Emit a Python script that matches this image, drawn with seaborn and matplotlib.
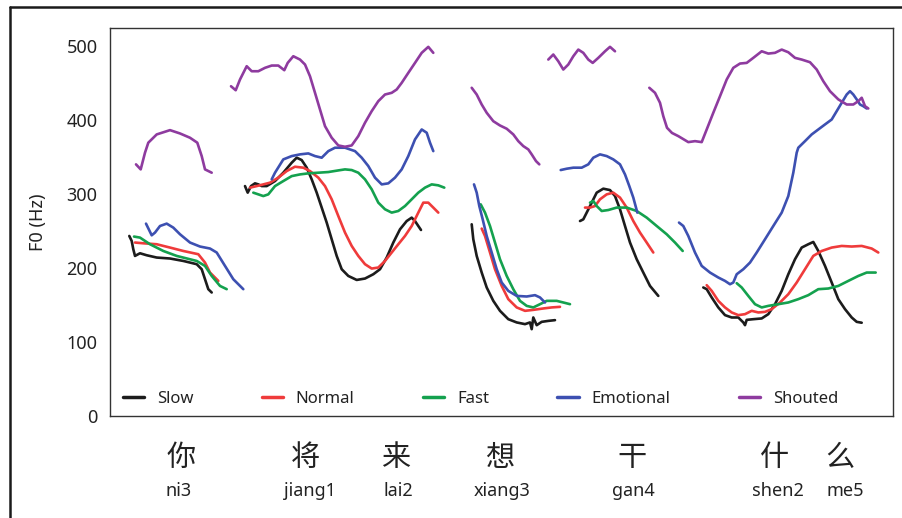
import matplotlib
matplotlib.use("Agg")
import matplotlib.pyplot as plt
import matplotlib.transforms as mtransforms
from matplotlib.lines import Line2D
import seaborn as sns
import pandas as pd

# ---------------- data (time in arbitrary units, F0 in Hz) ----------------
STYLES = ["Slow", "Normal", "Fast", "Emotional", "Shouted"]
COLORS = ["#1c1c1c", "#ef3b3b", "#14a14e", "#3d50b1", "#8e3b9f"]

# Slow
slow_t = [
    [19.3, 21.7, 23.3, 25, 30, 36.7, 46.7, 60, 73.3, 86.7, 91.7, 95, 98.3, 101.7],
    [135, 137.7, 141, 145, 148.3, 151.7, 156.7, 165, 173.3, 181.7, 186.7, 191.7, 196.7, 201.7, 206.7, 211.7, 216.7,
     221.7, 226.7, 231.7, 238.3, 246.7, 255, 263.3, 270, 276.7, 283.3, 290, 296.7, 301.7, 305, 308.3, 311],
    [361.7, 363.3, 366.7, 371.7, 376.7, 383.3, 390, 398.3, 406.7, 415, 420, 421.7, 423.3, 426.7, 431.7, 438.3, 445],
    [470, 473.3, 476.7, 481.7, 486.7, 493.3, 500, 505, 510, 515, 520, 526.7, 533.3, 540, 548.3],
    [593.3, 596.7, 601.7, 608.3, 615, 621.7, 628.3, 633.3, 635, 636.7, 643.3, 651.7, 658.3, 665, 671.7, 678.3, 685,
     691.7, 698.3, 703.3, 708.3, 715, 721.7, 728.3, 735, 741.7, 746.7, 751.7],
]
slow_f0 = [
    [243.6, 236.8, 225.6, 216.6, 220.2, 217.5, 214.4, 213.1, 209.8, 205.4, 198.6, 185.1, 171.6, 167.1],
    [311.1, 302.2, 311.1, 314.8, 313.4, 311.1, 311.1, 317.9, 329.2, 342.7, 349.5, 346.3, 336, 320.2, 302.2, 282, 261.7,
     239.1, 216.6, 198.6, 189.5, 184.1, 186, 191.8, 198.6, 214.4, 234.7, 252.6, 263.8, 268.4, 263.8, 257.1, 251.7],
    [259.4, 239.1, 216.6, 194.1, 173.9, 155.8, 142.3, 131, 126.6, 124.3, 126.6, 117.5, 133.3, 122.9, 127.4, 128.7, 129.7],
    [263.8, 266.1, 275.2, 288.7, 302.2, 307.6, 305.7, 297.6, 279.7, 257.1, 234.7, 212.1, 194.1, 176, 162.5],
    [173.9, 171.6, 160.4, 146.9, 136.5, 133.3, 133.3, 126.6, 122.9, 130.1, 131, 132, 137.8, 151.3, 169.3, 191.8, 212.1,
     227.9, 232.4, 235.5, 223.3, 203.1, 180.6, 158.1, 144.6, 133.3, 127.4, 126.2],
]

# Normal
normal_t = [
    [25, 33.3, 46.7, 60, 73.3, 88.3, 95, 100, 108.3],
    [140, 146.7, 153.3, 160, 168.3, 176.7, 185, 193.3, 200, 208.3, 215, 221.7, 228.3, 235, 241.7, 248.3, 255, 261.7,
     268.3, 275, 281.7, 288.3, 295, 301.7, 308.3, 313.3, 318.3, 323.3, 328.3],
    [371.7, 375, 380, 385, 391.7, 398.3, 406.7, 415, 423.3, 433.3, 441.7, 450],
    [475, 480, 485, 490, 496.7, 503.3, 510, 516.7, 523.3, 530, 536.7, 543.3],
    [596.7, 601.7, 608.3, 615, 621.7, 628.3, 635, 641.7, 648.3, 655, 661.7, 670, 678.3, 686.7, 695, 703.3, 711.7,
     721.7, 731.7, 741.7, 751.7, 761.7, 768.3],
]
normal_f0 = [
    [234.7, 233.7, 232.4, 227.9, 223.3, 218.9, 207.6, 194.1, 182.8],
    [309, 311.1, 313.4, 315.7, 322.5, 331.4, 337.3, 336, 331.4, 322.5, 311.1, 293.2, 270.6, 248.2, 230.1, 216.6, 205.4,
     199.5, 200.9, 209.8, 221.2, 232.4, 243.6, 257.1, 275.2, 288.7, 288.7, 282, 275.2],
    [253.6, 243.6, 221.2, 198.6, 176, 158.1, 146.9, 142.3, 143.6, 145.5, 146.9, 147.7],
    [282, 282, 284.1, 293.2, 299.9, 302.2, 295.5, 282, 263.8, 248.2, 234.7, 221.2],
    [177, 169.3, 155.8, 146.9, 140.1, 136.5, 137.8, 142.3, 140.1, 140.9, 144.6, 153.6, 164.8, 180.6, 198.6, 216.6, 223.3,
     227.9, 230.1, 229.3, 230.1, 226.6, 221.2],
]

# Fast
fast_t = [
    [24, 30, 40, 53.3, 66.7, 86.7, 95, 101.7, 110, 116.7],
    [143.3, 148.3, 153.3, 158.3, 165, 173.3, 181.7, 190, 198.3, 208.3, 218.3, 228.3, 235, 241.7, 248.3, 255, 261.7,
     268.3, 275, 281.7, 288.3, 295, 301.7, 308.3, 315, 321.7, 328.3, 334.3],
    [370.7, 375, 380, 385, 390, 396.7, 403.3, 410, 416.7, 423.3, 430, 436.7, 446.7, 453.3, 460],
    [480, 483.3, 486.7, 491.7, 498.3, 506.7, 516.7, 526.7, 536.7, 546.7, 556.7, 565, 572.7],
    [626.7, 631.7, 638.3, 645, 651.7, 658.3, 668.3, 678.3, 688.3, 698.3, 708.3, 718.3, 728.3, 738.3, 748.3, 756.7, 765.7],
]
fast_f0 = [
    [242.8, 241.4, 232.4, 223.3, 216.6, 209.8, 203.1, 189.5, 176, 171.6],
    [302.2, 299.9, 297.6, 299.9, 311.1, 317.9, 324.6, 326.9, 328.3, 329.2, 330.1, 332.3, 333.7, 332.8, 329.2, 320.2,
     306.7, 288.7, 279.7, 275.2, 277.4, 284.1, 293.2, 302.2, 309, 313.4, 312.1, 309],
    [286.4, 275.2, 257.1, 234.7, 212.1, 189.5, 171.6, 155.8, 149, 146.9, 151.3, 155.8, 155.8, 153.6, 151.3],
    [288.7, 290.9, 284.1, 277.4, 278.7, 282, 282, 277.4, 268.4, 257.1, 245.9, 234.7, 223.3],
    [179.7, 173.9, 162.5, 151.3, 146.9, 149, 151.3, 153.6, 158.1, 163.5, 171.6, 172.5, 176, 182.8, 189.5, 194.1, 194.1],
]

# Emotional
emotional_t = [
    [36, 41.7, 45, 50, 56.7, 63.3, 70, 80, 90, 100, 106.7, 115, 123.3, 133.3],
    [161.7, 165, 173.3, 181.7, 190, 198.3, 205, 211.7, 218.3, 225, 235, 245, 251.7, 258.3, 265, 271.7, 278.3, 285,
     291.7, 298.3, 305, 311.7, 316.7, 320, 323.3],
    [364, 366.7, 369.3, 372.7, 376.7, 381.7, 386.7, 391.7, 398.3, 406.7, 416.7, 425, 430, 435],
    [450.7, 456.7, 463.3, 471.7, 478.3, 483.3, 490, 496.7, 503.3, 510, 515, 519.3, 523.3, 526, 527.3],
    [569, 573.3, 578.3, 585, 591.7, 600, 608.3, 615, 620, 623.3, 626.7, 633.3, 640, 646.7, 655, 663.3, 671.7, 678.3,
     683.3, 686.7, 688.3, 695, 701.7, 708.3, 715, 721.7, 726.7, 731.7, 736.7, 740, 743.3, 746.7, 750, 753.3, 756.7],
]
emotional_f0 = [
    [260.3, 244.5, 248.2, 257.1, 260.3, 254.9, 245.9, 234.7, 229.3, 226.6, 221.2, 203.1, 185.1, 171.6],
    [320.2, 329.2, 347.2, 351.7, 354, 355.3, 351.7, 349.5, 358.4, 363, 363, 358.4, 349.5, 338.2, 322.5, 313.4, 314.8,
     322.5, 333.7, 351.7, 374.2, 387.7, 383.3, 369.8, 358.4],
    [313.4, 302.2, 284.1, 266.1, 243.6, 221.2, 198.6, 180.6, 169.3, 162.5, 161.7, 163.5, 160.4, 153.6],
    [332.8, 334.6, 336, 336, 340.5, 349.5, 354, 351.7, 347.2, 340.5, 326.9, 311.1, 295.5, 282, 275.2],
    [261.7, 257.1, 243.6, 221.2, 203.1, 194.1, 187.4, 182.8, 178.3, 180.6, 191.8, 198.6, 207.6, 221.2, 239.1, 257.1,
     275.2, 297.6, 329.2, 356.3, 363, 371.9, 381, 387.7, 394.5, 401.2, 412.5, 423.8, 435, 439.5, 435, 428.4, 421.5,
     419.2, 416.1],
]

# Shouted
shouted_t = [
    [26, 30.7, 35, 38.3, 46.7, 60, 70, 80, 87.3, 91.7, 95, 101.7],
    [121, 125.7, 130, 136.7, 141.7, 148.3, 155, 161.7, 168.3, 174.3, 177.7, 183.3, 190, 195, 200, 205, 210, 215,
     221.7, 228.3, 235, 241.7, 248.3, 255, 261.7, 268.3, 275, 281.7, 286.7, 291.7, 298.3, 305, 311.7, 318.3, 323.3],
    [361.7, 366.7, 371.7, 376.7, 383.3, 390, 396.7, 403.3, 408.3, 413.3, 418.3, 421.7, 426, 429.3],
    [438.3, 443.3, 448.3, 453.3, 458.3, 463.3, 468.3, 473.3, 478.3, 482.7, 488.3, 495, 500, 505],
    [539.3, 545, 550, 553.3, 557, 562, 568.3, 578.3, 585, 591.7, 596.7, 603.3, 610, 616.7, 623.3, 630, 636.7, 643.3,
     651.7, 658.3, 665, 671.7, 678.3, 685, 691.7, 700, 706.7, 713.3, 720, 728.3, 736.7, 743.3, 748.3, 751.7, 755, 758.3],
]
shouted_f0 = [
    [340.5, 333.7, 356.3, 369.8, 381, 386.8, 382.3, 376.5, 369.8, 351.7, 333.7, 329.2],
    [446.2, 440.8, 455.3, 473.3, 466.5, 466.5, 471.1, 474.2, 474.2, 467.9, 477.8, 486.8, 482.3, 475.6, 459.7, 437.3,
     414.7, 392.2, 376.5, 366.1, 364.3, 366.1, 378.7, 396.8, 412.5, 426, 435, 437.3, 441.8, 450.8, 464.3, 477.8, 491.4,
     499.5, 491.4],
    [444.1, 435, 421.5, 410.3, 398.9, 393.1, 388.7, 381, 371.9, 365.2, 360.7, 354, 344.9, 340.5],
    [482.3, 489.1, 480, 468.8, 475.6, 486.8, 495.8, 491.4, 482.3, 477.8, 484.6, 493.5, 499.5, 493.5],
    [444.1, 437.3, 423.8, 405.7, 390, 383, 378.7, 370.6, 371.9, 370.6, 387.7, 410.3, 432.7, 455.3, 471.1, 476.9, 477.8,
     484.6, 493.5, 490.4, 491.4, 495.8, 492.2, 484.6, 482.3, 478.7, 468.8, 453, 439.5, 428.4, 421.5, 421.5, 426, 430.6,
     419.2, 416.1],
]

# syllable labels
HANZI = ["你", "将", "来", "想", "干", "什", "么"]
HANZI_T = [71, 195, 286, 390, 522, 665, 730]
PINYIN = ["ni3", "jiang1", "lai2", "xiang3", "gan4", "shen2", "me5"]
PINYIN_T = [69, 200, 288, 392, 523, 668, 735]

YTICKS = [0, 100, 200, 300, 400, 500]

# ---------------- build long table ----------------
series_t = [slow_t, normal_t, fast_t, emotional_t, shouted_t]
series_f = [slow_f0, normal_f0, fast_f0, emotional_f0, shouted_f0]
rows = []
for style, segs_t, segs_f in zip(STYLES, series_t, series_f):
    for k, (tt, ff) in enumerate(zip(segs_t, segs_f)):
        for order, (a, b) in enumerate(zip(tt, ff)):
            rows.append({"t": a, "f0": b, "style": style, "seg": f"{style}_{k}", "order": order})
df = pd.DataFrame(rows)

# ---------------- plotting ----------------
sns.set_theme(style="white")
plt.rcParams["font.family"] = ["Noto Sans", "DejaVu Sans"]

fig = plt.figure(figsize=(9.02, 5.18), dpi=100)
ax = fig.add_axes([110 / 902, 1 - 416 / 518, 783 / 902, 388 / 518])

sns.lineplot(data=df, x="t", y="f0", hue="style", hue_order=STYLES,
             palette=dict(zip(STYLES, COLORS)), units="seg", estimator=None,
             sort=False, linewidth=1.9, ax=ax)

ax.set_xlim(0, 783)
ax.set_ylim(0, 525)
ax.set_xticks([])
ax.set_yticks(YTICKS)
ax.set_yticklabels([str(v) for v in YTICKS], fontsize=13, color="#222222")
ax.tick_params(axis="y", length=0, pad=9)
ax.set_xlabel("")
ax.set_ylabel("F0 (Hz)", fontsize=13, color="#222222", labelpad=14)
for sp in ax.spines.values():
    sp.set_visible(True)
    sp.set_color("#333333")
    sp.set_linewidth(1.0)

handles, labels = ax.get_legend_handles_labels()
for h in handles:
    h.set_linewidth(2.5)
leg = ax.legend(handles, labels, ncol=5, loc="center left", bbox_to_anchor=(0.016, 0.044),
                frameon=False, fontsize=12, handlelength=1.3, handletextpad=0.75,
                columnspacing=4.1, borderaxespad=0.0, borderpad=0.0)
for txt in leg.get_texts():
    txt.set_color("#222222")

# syllable labels below the axes
trans = mtransforms.blended_transform_factory(ax.transData, fig.transFigure)
for t, h in zip(HANZI_T, HANZI):
    ax.text(t, 1 - 458 / 518, h, transform=trans, ha="center", va="center",
            fontsize=21, family=["Noto Sans CJK SC"], color="#222222", clip_on=False)
for t, p in zip(PINYIN_T, PINYIN):
    ax.text(t, 1 - 491 / 518, p, transform=trans, ha="center", va="center",
            fontsize=13, color="#222222", clip_on=False)

# outer frame (top and left edges)
fig.add_artist(Line2D([10 / 902, 1.0], [1 - 7 / 518, 1 - 7 / 518], transform=fig.transFigure,
                      color="#1a1a1a", linewidth=1.8))
fig.add_artist(Line2D([10 / 902, 10 / 902], [0.0, 1 - 7 / 518], transform=fig.transFigure,
                      color="#1a1a1a", linewidth=1.8))

fig.savefig("out.png", dpi=100)
